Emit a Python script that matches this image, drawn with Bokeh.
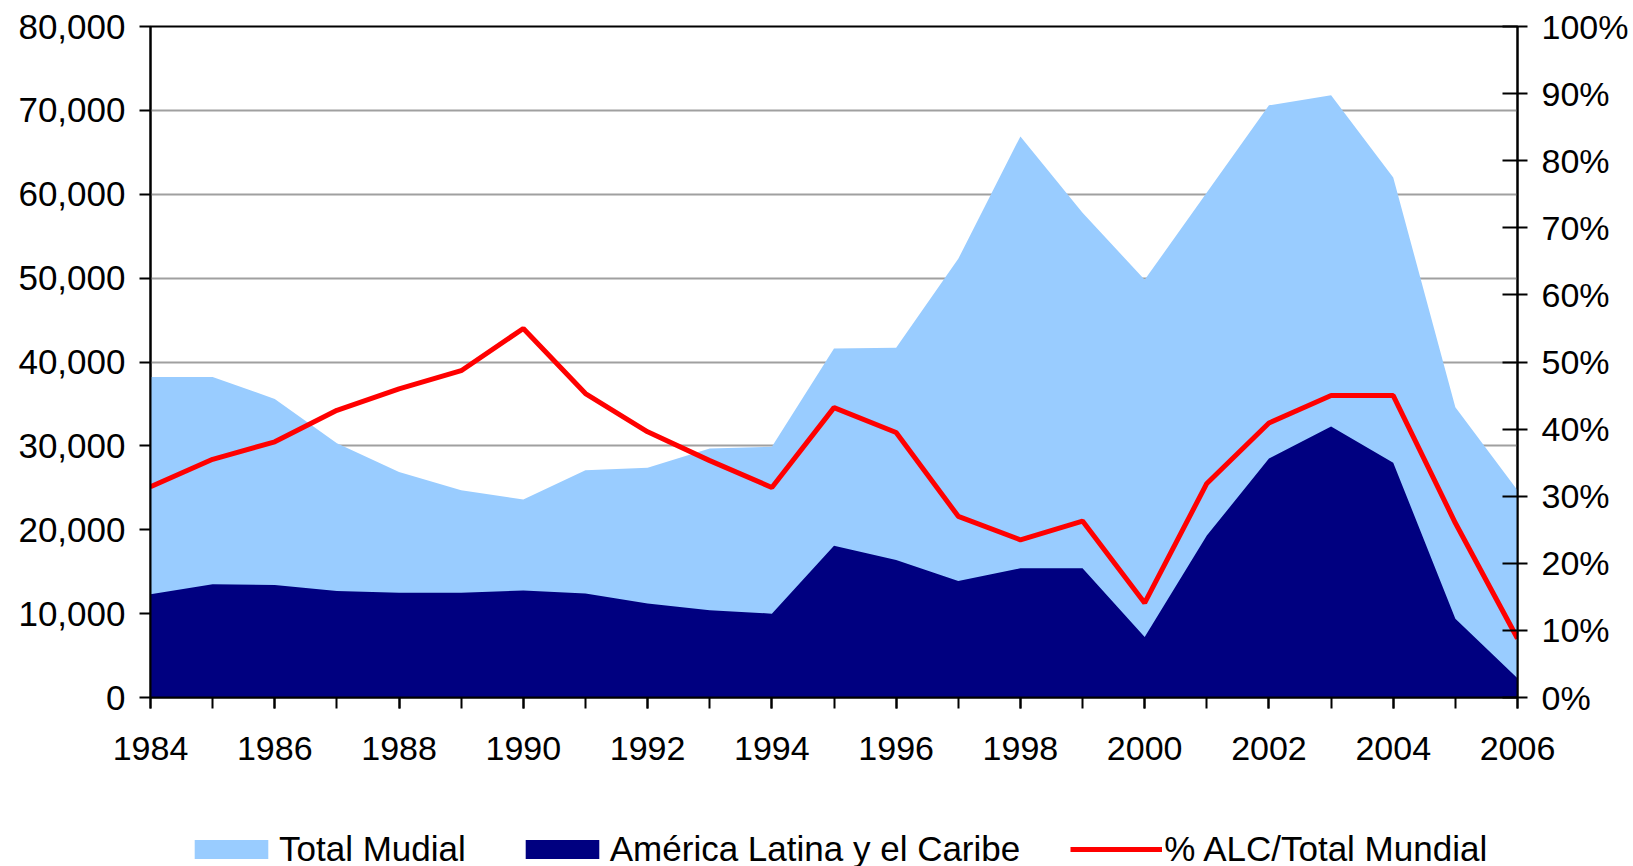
from bokeh.plotting import figure
from bokeh.layouts import column
from bokeh.models import (Range1d, LinearAxis, FixedTicker, NumeralTickFormatter,
                          PrintfTickFormatter, Legend, LegendItem)
from bokeh.embed import file_html
from bokeh.resources import INLINE

years = list(range(1984, 2007))
total_mundial = [38200, 38200, 35600, 30300, 26900, 24700, 23600, 27100, 27400, 29700,
                 29900, 41600, 41700, 52300, 66900, 57800, 49800, 60200, 70600, 71800,
                 62000, 34600, 24700]
america_latina = [12300, 13500, 13400, 12700, 12500, 12500, 12750, 12400, 11200, 10400,
                  10000, 18100, 16400, 13900, 15400, 15400, 7200, 19300, 28500, 32300,
                  28000, 9400, 2300]
pct_alc = [31.4, 35.5, 38.1, 42.8, 46.0, 48.7, 55.0, 45.3, 39.6, 35.3, 31.3, 43.2, 39.5,
           27.0, 23.5, 26.3, 14.1, 31.9, 40.9, 45.0, 45.0, 26.0, 8.8]
labels = ["Total Mudial", "América Latina y el Caribe", "% ALC/Total Mundial"]

x_major = list(range(1984, 2007, 2))
y_ticks = list(range(0, 80001, 10000))
pct_ticks = list(range(0, 101, 10))

FONT = "Liberation Sans"
FS = "34px"
C_TOTAL = "#99CCFF"
C_ALC = "#000080"
C_PCT = "#FF0000"

p = figure(frame_width=1367, frame_height=671,
           output_backend="svg", toolbar_location=None,
           x_range=Range1d(1984, 2006), y_range=Range1d(0, 80000),
           min_border_left=150, min_border_right=116, min_border_top=26, min_border_bottom=83)
p.extra_y_ranges = {"pct": Range1d(0, 100)}
p.background_fill_color = "white"
p.border_fill_color = "white"
p.outline_line_color = "black"
p.outline_line_width = 2

p.varea(x=years, y1=0, y2=total_mundial, fill_color=C_TOTAL)
p.varea(x=years, y1=0, y2=america_latina, fill_color=C_ALC)
p.line(x=years, y=pct_alc, y_range_name="pct", line_color=C_PCT, line_width=5)

# grids
p.xgrid.visible = False
p.ygrid.ticker = FixedTicker(ticks=y_ticks)
p.ygrid.grid_line_color = "#a0a0a0"
p.ygrid.grid_line_width = 2

# x axis
xa = p.xaxis[0]
xa.ticker = FixedTicker(ticks=x_major, minor_ticks=years)
xa.axis_line_color = "black"
xa.axis_line_width = 2
xa.major_tick_in = 0
xa.major_tick_out = 11
xa.minor_tick_in = 0
xa.minor_tick_out = 11
xa.major_tick_line_width = 2
xa.minor_tick_line_width = 2
xa.minor_tick_line_color = "black"
xa.major_label_text_font = FONT
xa.major_label_text_font_size = FS
xa.major_label_text_color = "black"
xa.major_label_standoff = 28

# left axis
ya = p.yaxis[0]
ya.ticker = FixedTicker(ticks=y_ticks)
ya.formatter = NumeralTickFormatter(format="0,0")
ya.axis_line_color = "black"
ya.axis_line_width = 2
ya.major_tick_in = 0
ya.major_tick_out = 11
ya.major_tick_line_width = 2
ya.minor_tick_line_color = None
ya.major_label_text_font = FONT
ya.major_label_text_font_size = "35px"
ya.major_label_text_color = "black"
ya.major_label_standoff = 14

# right axis
ra = LinearAxis(y_range_name="pct", ticker=FixedTicker(ticks=pct_ticks),
                formatter=PrintfTickFormatter(format="%d%%"))
ra.axis_line_color = "black"
ra.axis_line_width = 2
ra.major_tick_in = 15
ra.major_tick_out = 10
ra.major_tick_line_width = 2
ra.minor_tick_line_color = None
ra.major_label_text_font = FONT
ra.major_label_text_font_size = FS
ra.major_label_text_color = "black"
ra.major_label_standoff = 14
p.add_layout(ra, "right")

# legend strip (separate figure so the legend sits just under the chart)
lg = figure(width=1633, height=86, output_backend="svg", toolbar_location=None,
            x_axis_type=None, y_axis_type=None,
            x_range=Range1d(0, 1), y_range=Range1d(0, 1),
            min_border_left=0, min_border_right=0, min_border_top=0, min_border_bottom=0)
lg.outline_line_color = None
lg.background_fill_color = "white"
lg.border_fill_color = "white"
r1 = lg.varea(x=years, y1=0, y2=total_mundial, fill_color=C_TOTAL)
r2 = lg.varea(x=years, y1=0, y2=america_latina, fill_color=C_ALC)
r3 = lg.line(x=years, y=pct_alc, line_color=C_PCT, line_width=5)

legend = Legend(items=[LegendItem(label=labels[0], renderers=[r1]),
                       LegendItem(label=labels[1], renderers=[r2]),
                       LegendItem(label=labels[2], renderers=[r3])],
                orientation="horizontal", location=(35, -3))
legend.border_line_color = None
legend.background_fill_alpha = 0
legend.label_text_font = FONT
legend.label_text_font_size = "35px"
legend.label_text_color = "black"
legend.glyph_width = 92
legend.glyph_height = 24
legend.label_standoff = 2
legend.spacing = 50
legend.padding = 0
legend.margin = 0
legend.label_height = 22
lg.add_layout(legend, "center")

layout = column(p, lg, spacing=0)
open("out.html", "w").write(file_html(layout, INLINE))
